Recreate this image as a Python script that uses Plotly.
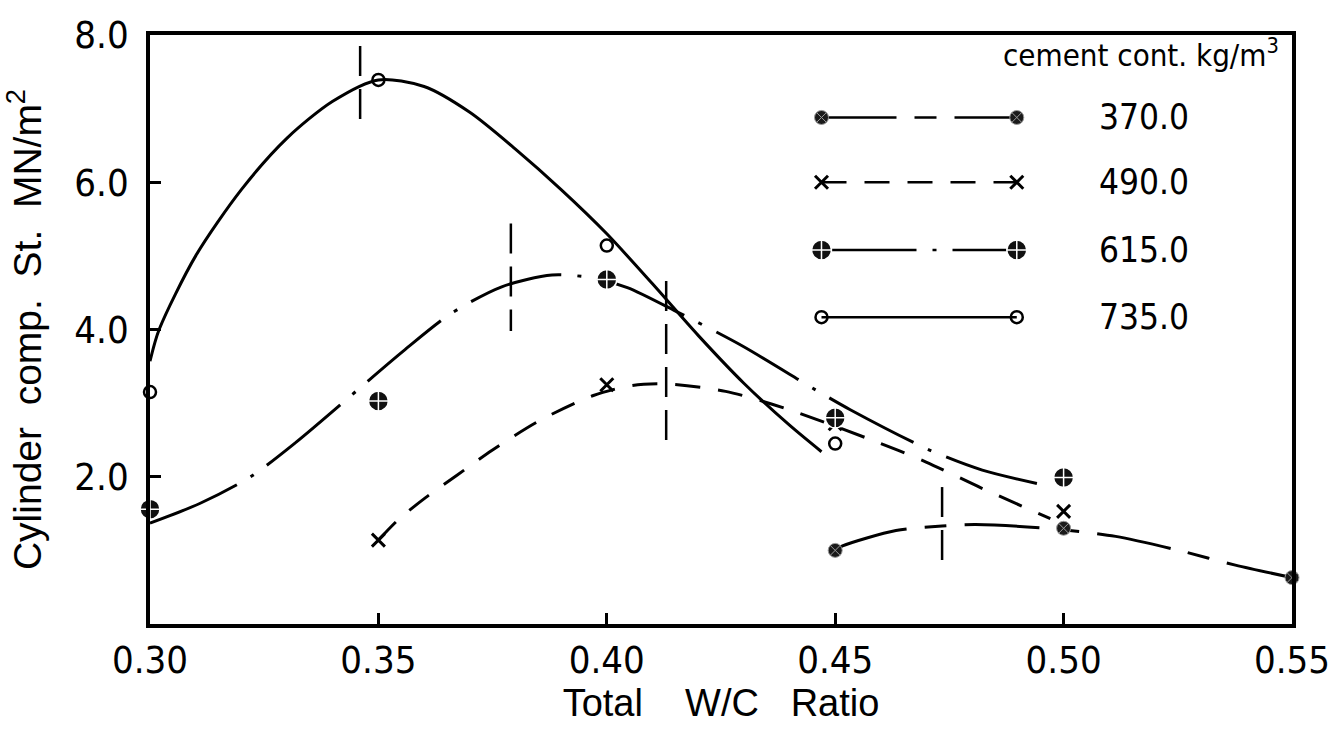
import plotly.graph_objects as go

# ---------------- data ----------------
# measured points (Total W/C ratio, cylinder compressive strength MN/m2)
wc_370 = [0.45, 0.50, 0.55]
st_370 = [1.00, 1.30, 0.63]

wc_490 = [0.35, 0.40, 0.45, 0.50]
st_490 = [1.14, 3.25, 2.72, 1.53]

wc_615 = [0.30, 0.35, 0.40, 0.45, 0.50]
st_615 = [1.56, 3.03, 4.68, 2.80, 1.99]

wc_735 = [0.30, 0.35, 0.40, 0.45]
st_735 = [3.15, 7.39, 5.14, 2.45]

# hand-fitted curves
curve_370_x = [0.450, 0.4516, 0.4633, 0.4734, 0.4807, 0.4963, 0.5114, 0.5258, 0.5376, 0.550]
curve_370_y = [1.00, 1.06, 1.27, 1.33, 1.35, 1.30, 1.19, 0.99, 0.80, 0.63]

curve_490_x = [0.350, 0.3544, 0.3604, 0.3672, 0.3749, 0.3852, 0.3969, 0.4056, 0.413,
               0.426, 0.439, 0.4588, 0.4699, 0.4819, 0.4971]
curve_490_y = [1.14, 1.42, 1.72, 2.02, 2.36, 2.76, 3.10, 3.24, 3.26,
               3.16, 2.93, 2.48, 2.20, 1.85, 1.43]

curve_615_x = [0.300, 0.311, 0.322, 0.332, 0.3555, 0.366, 0.377, 0.388, 0.397, 0.4045, 0.4157,
               0.4296, 0.4457, 0.4533, 0.4704, 0.4822, 0.4956]
curve_615_y = [1.37, 1.64, 2.00, 2.47, 3.71, 4.22, 4.58, 4.74, 4.70, 4.57, 4.23,
               3.78, 3.18, 2.91, 2.37, 2.09, 1.89]

curve_735_x = [0.300, 0.302, 0.310, 0.320, 0.330, 0.340, 0.350, 0.360, 0.370, 0.380,
               0.390, 0.400, 0.410, 0.420, 0.430, 0.440, 0.447]
curve_735_y = [3.57, 4.00, 5.00, 5.90, 6.60, 7.10, 7.39, 7.30, 6.95, 6.45,
               5.90, 5.30, 4.62, 3.92, 3.27, 2.70, 2.34]

# vertical dashed marks at the optimum W/C ratio of each curve
peak_wc = [0.346, 0.379, 0.413, 0.4734]
peak_lo = [6.72, 3.98, 2.50, 0.76]
peak_hi = [7.85, 5.44, 4.66, 1.86]

# legend labels
cement_labels = ["370.0", "490.0", "615.0", "735.0"]
legend_title = "cement cont. kg/m<sup>3</sup>"

x_ticks = [0.30, 0.35, 0.40, 0.45, 0.50, 0.55]
y_ticks = [2.0, 4.0, 6.0, 8.0]

# ---------------- styling ----------------
NARROW = "Liberation Sans Narrow, DejaVu Sans Condensed, Arial Narrow, sans-serif"
REG = "Liberation Sans, Arial, sans-serif"
INK = "black"

dash_370 = "75px,18px,22px,18px"
dash_490 = "25px,18px"
dash_615 = "95px,16px,4px,16px"
dash_735 = "solid"

mk_370 = dict(symbol="circle-x", size=14, color="#1a1a1a", line=dict(color="#9a9a9a", width=1))
mk_490 = dict(symbol="x-thin", size=13, color=INK, line=dict(color=INK, width=3))
mk_615 = dict(symbol="circle-cross", size=20, color="#111111", line=dict(color="white", width=1.5))
mk_735 = dict(symbol="circle-open", size=12, color=INK, line=dict(color=INK, width=2.5))

series = [
    (wc_370, st_370, curve_370_x, curve_370_y, dash_370, mk_370),
    (wc_490, st_490, curve_490_x, curve_490_y, dash_490, mk_490),
    (wc_615, st_615, curve_615_x, curve_615_y, dash_615, mk_615),
    (wc_735, st_735, curve_735_x, curve_735_y, dash_735, mk_735),
]

fig = go.Figure()

for xs, ys, cx, cy, dash, mk in series:
    fig.add_trace(go.Scatter(x=cx, y=cy, mode="lines",
                             line=dict(color=INK, width=3, dash=dash, shape="spline", smoothing=0.8),
                             hoverinfo="skip", cliponaxis=False))
for xs, ys, cx, cy, dash, mk in series:
    fig.add_trace(go.Scatter(x=xs, y=ys, mode="markers", marker=mk, cliponaxis=False))

# optimum marks
px, py = [], []
for w, lo, hi in zip(peak_wc, peak_lo, peak_hi):
    px += [w, w, None]
    py += [hi, lo, None]
fig.add_trace(go.Scatter(x=px, y=py, mode="lines", line=dict(color=INK, width=2.5, dash="30px,13px"),
                         hoverinfo="skip", cliponaxis=False))

# ---------------- hand-drawn style legend (in plot-area fractions) ----------------
leg_rows = [0.860, 0.750, 0.635, 0.521]
leg_x0, leg_x1, leg_text_x = 0.588, 0.759, 0.870
for (xs, ys, cx, cy, dash, mk), row, lab in zip(series, leg_rows, cement_labels):
    fig.add_trace(go.Scatter(x=[leg_x0, leg_x1], y=[row, row], mode="lines+markers",
                             line=dict(color=INK, width=2.5, dash=dash), marker=mk,
                             xaxis="x2", yaxis="y2", hoverinfo="skip", cliponaxis=False))
    fig.add_annotation(x=leg_text_x, y=row, xref="paper", yref="paper", text=lab, showarrow=False,
                       font=dict(family=NARROW, size=35, color=INK), xanchor="center", yanchor="middle")
fig.add_annotation(x=0.868, y=0.970, xref="paper", yref="paper", text=legend_title, showarrow=False,
                   font=dict(family=NARROW, size=31, color=INK), xanchor="center", yanchor="middle")

axis_common = dict(showline=True, linewidth=3.5, linecolor=INK, mirror=True, showgrid=False, zeroline=False,
                   ticks="inside", ticklen=11, tickwidth=2.5, tickcolor=INK)

fig.update_layout(
    width=1342, height=729,
    margin=dict(l=150, r=46, t=35, b=89),
    paper_bgcolor="white", plot_bgcolor="white",
    showlegend=False,
    xaxis=dict(range=[0.30, 0.55], tickvals=x_ticks, ticktext=[f"{v:.2f}" for v in x_ticks],
               tickfont=dict(family=NARROW, size=38, color=INK),
               title=dict(text="Total\u00a0\u00a0\u00a0\u00a0W/C\u00a0\u00a0\u00a0Ratio",
                          font=dict(family=REG, size=38, color=INK), standoff=8),
               **axis_common),
    yaxis=dict(range=[0, 8], tickvals=y_ticks, ticktext=[f"{v:.1f}" for v in y_ticks],
               tickfont=dict(family=NARROW, size=38, color=INK), ticklabelstandoff=10,
               title=dict(text="Cylinder\u00a0\u00a0comp.\u00a0\u00a0St.\u00a0\u00a0MN/m<sup>2</sup>",
                          font=dict(family=REG, size=39, color=INK), standoff=28),
               **axis_common),
    xaxis2=dict(overlaying="x", range=[0, 1], visible=False),
    yaxis2=dict(overlaying="y", range=[0, 1], visible=False),
)

fig.write_html("out.html")
